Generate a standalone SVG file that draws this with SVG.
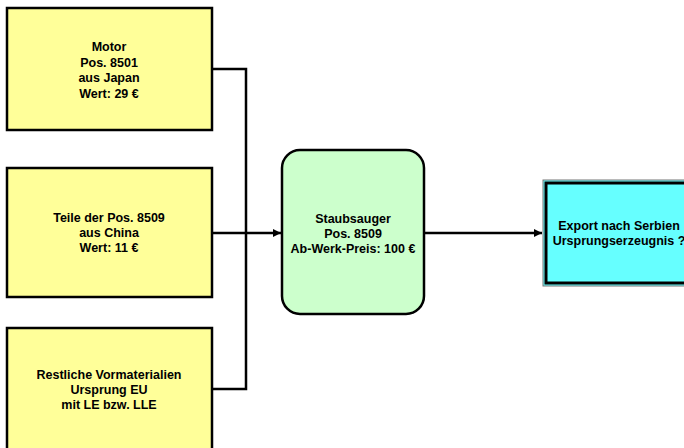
<svg xmlns="http://www.w3.org/2000/svg" width="684" height="448" viewBox="0 0 684 448">
<defs>
<style>
.box{fill:#ffff99;stroke:#000;stroke-width:2.5}
.t{font-family:"Liberation Sans",Arial,sans-serif;font-size:12.5px;font-weight:bold;fill:#000;text-anchor:middle}
.ln{fill:none;stroke:#000;stroke-width:2.5}
</style>
<marker id="ah" viewBox="0 0 10 10" refX="10" refY="5" markerWidth="10" markerHeight="8" markerUnits="userSpaceOnUse" orient="auto">
<path d="M0,0 L10,5 L0,10 Z" fill="#000"/>
</marker>
</defs>
<rect width="684" height="448" fill="#fff"/>
<g id="connectors">
<polyline class="ln" points="212,69 246,69 246,389 212,389"/>
<line class="ln" x1="212" y1="233" x2="281" y2="233" marker-end="url(#ah)"/>
<line class="ln" x1="424" y1="233" x2="542" y2="233" marker-end="url(#ah)"/>
</g>
<g id="motor">
<rect class="box" x="7" y="8" width="205" height="122"/>
<text class="t" x="109" y="51">Motor</text>
<text class="t" x="109" y="67">Pos. 8501</text>
<text class="t" x="109" y="82">aus Japan</text>
<text class="t" x="109" y="98">Wert: 29 €</text>
</g>
<g id="teile">
<rect class="box" x="7" y="168" width="205" height="129"/>
<text class="t" x="109" y="222">Teile der Pos. 8509</text>
<text class="t" x="109" y="237">aus China</text>
<text class="t" x="109" y="252">Wert: 11 €</text>
</g>
<g id="restliche">
<rect class="box" x="7" y="328" width="205" height="130"/>
<text class="t" x="109" y="379">Restliche Vormaterialien</text>
<text class="t" x="109" y="394">Ursprung EU</text>
<text class="t" x="109" y="409">mit LE bzw. LLE</text>
</g>
<g id="staubsauger">
<rect x="282" y="150" width="142" height="164" rx="18" ry="18" fill="#ccffcc" stroke="#000" stroke-width="2.5"/>
<text class="t" x="353" y="223">Staubsauger</text>
<text class="t" x="353" y="238">Pos. 8509</text>
<text class="t" x="353" y="253">Ab-Werk-Preis: 100 €</text>
</g>
<g id="export">
<rect x="543" y="180" width="160" height="106" fill="#66ffff" stroke="#777" stroke-width="1"/>
<rect x="546" y="183" width="160" height="100" fill="#66ffff" stroke="#000" stroke-width="3"/>
<text class="t" x="619" y="230">Export nach Serbien</text>
<text class="t" x="619" y="245">Ursprungserzeugnis ?</text>
</g>
</svg>
